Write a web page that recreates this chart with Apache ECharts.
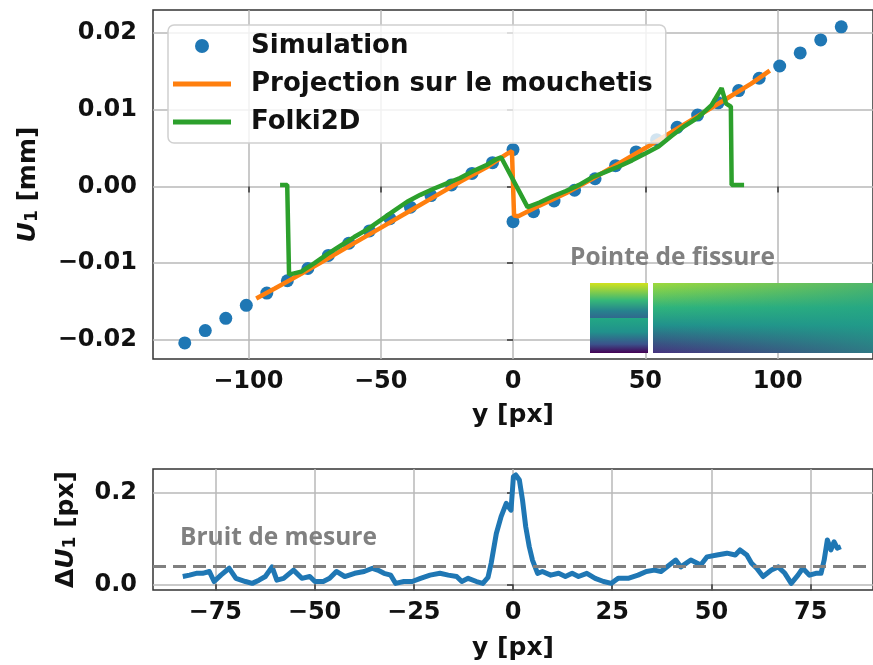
<!DOCTYPE html>
<html>
<head>
<meta charset="utf-8">
<script src="https://cdn.jsdelivr.net/npm/echarts@6/dist/echarts.min.js"></script>
<style>
html,body{margin:0;padding:0;background:#fff;}
#chart{width:873px;height:665px;}
</style>
</head>
<body>
<div id="chart"></div>
<script>
// ---------- DATA ----------
// Simulation (blue dots)
const simX = [-124, -116.25, -108.5, -100.75, -93, -85.25, -77.5, -69.75, -62, -54.25, -46.5, -38.75, -31, -23.25, -15.5, -7.75, 0,
              0, 7.75, 15.5, 23.25, 31, 38.75, 46.5, 54.25, 62, 69.75, 77.5, 85.25, 93, 100.75, 108.5, 116.25, 124];
const simY = [-0.0204, -0.0188, -0.0172, -0.0155, -0.0139, -0.0123, -0.0107, -0.0090, -0.0074, -0.0058, -0.0042, -0.0027, -0.0012, 0.0002, 0.0017, 0.0031, 0.0048,
              -0.0046, -0.0033, -0.0019, -0.0005, 0.0010, 0.0027, 0.0045, 0.0061, 0.0077, 0.0093, 0.0109, 0.0125, 0.0141, 0.0157, 0.0174, 0.0191, 0.0208];
// Projection sur le mouchetis (orange)
const projX = [-97, -90, -80, -70, -60, -50, -40, -30, -20, -10, -2, -0.4, 0.4, 2, 10, 20, 30, 40, 50, 60, 70, 80, 90, 97];
const projY = [-0.0146, -0.0133, -0.0114, -0.0094, -0.0074, -0.0054, -0.0034, -0.0014, 0.0006, 0.0025, 0.0043, 0.0046, -0.0038, -0.0039,
               -0.0025, -0.0009, 0.0010, 0.0030, 0.0050, 0.0071, 0.0092, 0.0113, 0.0134, 0.0151];
// Folki2D (green)
const folkiX = [-88, -85.3, -84.6, -80, -75, -70, -65, -60, -55, -50, -45, -40, -35, -30, -25, -20, -15, -10, -6, -4.5,
                5.5, 10, 15, 20, 25, 30, 35, 40, 45, 50, 55, 60, 65, 70, 75, 78.8, 80.5, 82.3, 82.6, 87.3];
const folkiY = [0.0002, 0.0002, -0.0115, -0.0111, -0.0100, -0.0088, -0.0077, -0.0066, -0.0056, -0.0044, -0.0032, -0.0020, -0.0011, -0.0003,
                0.0004, 0.0011, 0.0020, 0.0028, 0.0036, 0.0038,
                -0.0027, -0.0021, -0.0013, -0.0006, 0.0002, 0.0012, 0.0019, 0.0026, 0.0034, 0.0043, 0.0052, 0.0066, 0.0079, 0.0090, 0.0106,
                0.0128, 0.0108, 0.0104, 0.0002, 0.0002];
// Delta U1 (bottom)
const diffX = [-83.2, -81.5, -79.8, -78.2, -76.5, -75.3, -73.6, -71.5, -69.8, -67.4, -65.7, -64, -62.4, -60.7, -59.5, -57.8, -55.3, -53.2,
               -51.2, -49.9, -47.8, -46.2, -44.5, -42.4, -39.9, -37.5, -35.4, -34.1, -32.5, -30.8, -29.6, -27.5, -25.4, -23.3, -20.9,
               -18.4, -16.3, -14.2, -12.9, -11.3, -9.2, -7.6, -6.3, -5.5, -4.2, -3, -1.7, -1.1, -0.5, 0.1, 0.7, 1.6, 2.4, 3.2, 4.1, 4.9,
               6.2, 7.4, 9.5, 11.5, 13.2, 14.9, 16.5, 18.6, 20.7, 22.8, 24.8, 26.5, 29, 31.5, 33.6, 35.6, 37.3, 39.4, 41, 42.3, 44.8,
               47.3, 48.9, 51.4, 53.9, 56, 57.2, 58.9, 60.1, 61.4, 63, 65.1, 66.8, 68.5, 70.1, 71.8, 73, 74.7, 76.3, 77.6, 78.4, 79.2,
               80.1, 80.9, 81.7, 82.6];
const diffY = [0.017, 0.020, 0.024, 0.024, 0.028, 0.006, 0.020, 0.035, 0.013, 0.006, 0.002, 0.009, 0.017, 0.038, 0.009, 0.013, 0.031, 0.013,
               0.017, 0.006, 0.006, 0.013, 0.028, 0.017, 0.024, 0.028, 0.035, 0.031, 0.024, 0.020, 0.002, 0.006, 0.006, 0.013, 0.020,
               0.024, 0.020, 0.017, 0.006, 0.013, 0.006, 0.002, 0.015, 0.046, 0.111, 0.148, 0.177, 0.169, 0.162, 0.235, 0.239, 0.228, 0.184, 0.126, 0.082, 0.053,
               0.024, 0.028, 0.020, 0.024, 0.017, 0.024, 0.017, 0.024, 0.013, 0.006, 0.002, 0.013, 0.013, 0.020, 0.028, 0.031, 0.028, 0.042, 0.053, 0.038, 0.053,
               0.042, 0.060, 0.064, 0.068, 0.064, 0.075, 0.064, 0.046, 0.035, 0.017, 0.031, 0.038, 0.024, 0.002, 0.020, 0.035, 0.020, 0.024, 0.024, 0.053, 0.097,
               0.075, 0.093, 0.079, 0.082];
const noiseLevel = 0.044;

// Tick labels
const topXTicks = [-100, -50, 0, 50, 100];
const topYTicks = [-0.02, -0.01, 0, 0.01, 0.02];
const botXTicks = [-75, -50, -25, 0, 25, 50, 75];
const botYTicks = [0, 0.2];

const seriesNames = ['Simulation', 'Projection sur le mouchetis', 'Folki2D'];
const annotTip = 'Pointe de fissure';
const annotNoise = 'Bruit de mesure';

// ---------- CHART ----------
const FONT = 'DejaVu Sans';
const minus = v => (v < 0 ? '\u2212' : '');
const fmt = d => v => minus(v) + Math.abs(v).toFixed(d);
const zip = (xs, ys) => xs.map((x, i) => [x, ys[i]]);

const tickStyle = {show: true, inside: false, length: 6, lineStyle: {color: '#333', width: 1.5}};
const splitStyle = {show: true, lineStyle: {color: '#b8b8b8', width: 1.5}};
const labelBase = {fontFamily: FONT, fontWeight: 'bold', fontSize: 24, color: '#111'};
const LINE_ICON = 'path://M0,0L58,0L58,5L0,5Z';

const nameRich = {
  i: {fontFamily: FONT, fontWeight: 'bold', fontStyle: 'italic', fontSize: 25, color: '#111'},
  s: {fontFamily: FONT, fontWeight: 'bold', fontSize: 17, color: '#111', verticalAlign: 'bottom', padding: [9, 0, 0, 0]},
  b: {fontFamily: FONT, fontWeight: 'bold', fontSize: 25, color: '#111'}
};

const chart = echarts.init(document.getElementById('chart'), null, {renderer: 'canvas'});

const option = {
  animation: false,
  backgroundColor: '#fff',
  grid: [
    {left: 153, top: 10, right: -7, height: 349, show: true, borderColor: '#333', borderWidth: 1.5, backgroundColor: 'transparent'},
    {left: 153, top: 469, right: -8, height: 121, show: true, borderColor: '#333', borderWidth: 1.5, backgroundColor: 'transparent'}
  ],
  xAxis: [
    {type: 'value', gridIndex: 0, min: -136, max: 136,
     axisLine: {show: false}, axisTick: Object.assign({customValues: topXTicks}, tickStyle),
     splitLine: splitStyle,
     axisLabel: Object.assign({customValues: topXTicks, margin: 11, formatter: fmt(0)}, labelBase),
     name: 'y [px]', nameLocation: 'middle', nameGap: 44,
     nameTextStyle: {fontFamily: FONT, fontWeight: 'bold', fontSize: 25, color: '#111'}},
    {type: 'value', gridIndex: 1, min: -90.7, max: 90.7,
     axisLine: {show: false}, axisTick: Object.assign({customValues: botXTicks}, tickStyle),
     splitLine: splitStyle,
     axisLabel: Object.assign({customValues: botXTicks, margin: 11, formatter: fmt(0)}, labelBase),
     name: 'y [px]', nameLocation: 'middle', nameGap: 46,
     nameTextStyle: {fontFamily: FONT, fontWeight: 'bold', fontSize: 25, color: '#111'}}
  ],
  yAxis: [
    {type: 'value', gridIndex: 0, min: -0.0225, max: 0.023,
     axisLine: {show: false}, axisTick: Object.assign({customValues: topYTicks}, tickStyle),
     splitLine: splitStyle,
     axisLabel: Object.assign({customValues: topYTicks, margin: 16, formatter: fmt(2)}, labelBase),
     name: '{i|U}{s|1}{b| [mm]}', nameLocation: 'middle', nameGap: 112, nameRotate: 90,
     nameTextStyle: {fontFamily: FONT, fontWeight: 'bold', fontSize: 25, color: '#111', rich: nameRich}},
    {type: 'value', gridIndex: 1, min: -0.0125, max: 0.252,
     axisLine: {show: false}, axisTick: Object.assign({customValues: botYTicks}, tickStyle),
     splitLine: splitStyle,
     axisLabel: Object.assign({customValues: botYTicks, margin: 16, formatter: fmt(1)}, labelBase),
     name: '{b|\u0394}{i|U}{s|1}{b| [px]}', nameLocation: 'middle', nameGap: 74, nameRotate: 90,
     nameTextStyle: {fontFamily: FONT, fontWeight: 'bold', fontSize: 25, color: '#111', rich: nameRich}}
  ],
  legend: {
    orient: 'vertical', left: 168, top: 25,
    data: [
      {name: seriesNames[0], icon: 'circle'},
      {name: seriesNames[1], icon: LINE_ICON},
      {name: seriesNames[2], icon: LINE_ICON}
    ],
    itemWidth: 58, itemHeight: 14, itemGap: 12,
    padding: [8, 13, 8, 5],
    backgroundColor: 'rgba(255,255,255,0.8)',
    borderColor: '#d0d0d0', borderWidth: 1.5, borderRadius: 6,
    textStyle: {fontFamily: FONT, fontWeight: 'bold', fontSize: 26, color: '#111', lineHeight: 25, padding: [0, 0, 0, 15]}
  },
  series: [
    {name: seriesNames[0], type: 'scatter', xAxisIndex: 0, yAxisIndex: 0, data: zip(simX, simY),
     symbol: 'circle', symbolSize: 13, itemStyle: {color: '#1f77b4', opacity: 1}, z: 2},
    {name: seriesNames[1], type: 'line', xAxisIndex: 0, yAxisIndex: 0, data: zip(projX, projY),
     symbol: 'none', lineStyle: {color: '#ff7f0e', width: 4.5}, itemStyle: {color: '#ff7f0e'}, z: 3},
    {name: seriesNames[2], type: 'line', xAxisIndex: 0, yAxisIndex: 0, data: zip(folkiX, folkiY),
     symbol: 'none', lineStyle: {color: '#2ca02c', width: 4.5}, itemStyle: {color: '#2ca02c'}, z: 4},
    {name: 'dU1', type: 'line', xAxisIndex: 1, yAxisIndex: 1, data: zip(diffX, diffY),
     symbol: 'none', lineStyle: {color: '#1f77b4', width: 5, join: 'round'}, itemStyle: {color: '#1f77b4'}, z: 3,
     markLine: {silent: true, symbol: 'none', label: {show: false}, animation: false,
       lineStyle: {type: [13, 7], color: '#808080', width: 3}, data: [{yAxis: noiseLevel}]}}
  ],
  graphic: [
    // inset image (crack tip field)
    {type: 'rect', left: 590, top: 283, shape: {width: 58, height: 35}, z: 10,
     style: {fill: new echarts.graphic.LinearGradient(0, 0, 0, 1, [
       {offset: 0, color: '#d2e21b'}, {offset: 0.5, color: '#35b779'}, {offset: 0.8, color: '#26828e'}, {offset: 1, color: '#31688e'}])}},
    {type: 'rect', left: 590, top: 318, shape: {width: 58, height: 35}, z: 10,
     style: {fill: new echarts.graphic.LinearGradient(0, 0, 0, 1, [
       {offset: 0, color: '#22a884'}, {offset: 0.4, color: '#21918c'}, {offset: 0.75, color: '#3b528b'}, {offset: 1, color: '#440154'}])}},
    {type: 'rect', left: 653, top: 283, shape: {width: 225, height: 70}, z: 10,
     style: {fill: new echarts.graphic.LinearGradient(0, 0, 0, 1, [
       {offset: 0, color: '#9fda3a'}, {offset: 0.35, color: '#2fb47c'}, {offset: 0.6, color: '#21918c'}, {offset: 1, color: '#46327e'}])}},
    {type: 'rect', left: 653, top: 283, shape: {width: 225, height: 70}, z: 11,
     style: {fill: new echarts.graphic.LinearGradient(0, 0, 1, 0, [
       {offset: 0, color: 'rgba(33,160,135,0)'}, {offset: 1, color: 'rgba(33,160,135,0.65)'}])}},
    {type: 'rect', left: 648, top: 283, shape: {width: 5, height: 70}, z: 12, style: {fill: '#fff'}},
    {type: 'text', left: 570, top: 246, z: 12,
     style: {text: annotTip, fontFamily: 'Open Sans', fontWeight: 'bold', fontSize: 24.5, fill: '#808080'}},
    {type: 'text', left: 180, top: 526, z: 12,
     style: {text: annotNoise, fontFamily: 'Open Sans', fontWeight: 'bold', fontSize: 24.5, fill: '#808080'}}
  ]
};
chart.setOption(option);
</script>
</body>
</html>
